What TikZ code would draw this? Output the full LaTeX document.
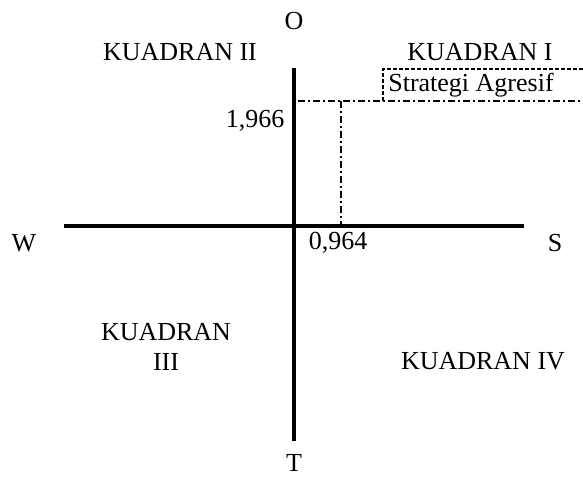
\documentclass[tikz,border=0pt]{standalone}
\usepackage{fontspec}
\setmainfont{Liberation Serif}
\begin{document}
\begin{tikzpicture}[x=1pt,y=-1pt,
  lbl/.style={inner sep=0pt,font=\fontsize{26}{30}\selectfont},
  axis/.style={line width=3.2pt},
  dd/.style={line width=2.2pt,dash pattern=on 7pt off 3pt on 2pt off 3pt},
  box/.style={line width=2.2pt,dash pattern=on 4pt off 2pt}]
\useasboundingbox (0,0) rectangle (583,497);
\coordinate (vt) at (294,68);
\coordinate (vb) at (294,441);
\coordinate (hl) at (64,226);
\coordinate (hr) at (524,226);
\draw[axis] (vt) -- (vb);
\draw[axis] (hl) -- (hr);
\coordinate (p1) at (298,101);
\coordinate (p2) at (583,101);
\coordinate (q1) at (341,101);
\coordinate (q2) at (341,226);
\draw[dd] (p1) -- (p2);
\draw[dd] (q1) -- (q2);
\coordinate (b1) at (383,101);
\coordinate (b2) at (383,69);
\coordinate (b3) at (583,69);
\draw[box] (b1) -- (b2) -- (b3);
\node[lbl] (o) at (294,21) {O};
\node[lbl] (k2) at (180,52) {KUADRAN II};
\node[lbl] (k1) at (480,52) {KUADRAN I};
\node[lbl] (sa) at (471,85) {Strategi Agresif};
\node[lbl] (y) at (255,121) {1,966};
\node[lbl] (w) at (24,243) {W};
\node[lbl] (x) at (338,243) {0,964};
\node[lbl] (s) at (555,243) {S};
\node[lbl,align=center] (k3) at (166,347) {KUADRAN\\III};
\node[lbl] (k4) at (483,361) {KUADRAN IV};
\node[lbl] (t) at (294,463) {T};
\end{tikzpicture}
\end{document}
